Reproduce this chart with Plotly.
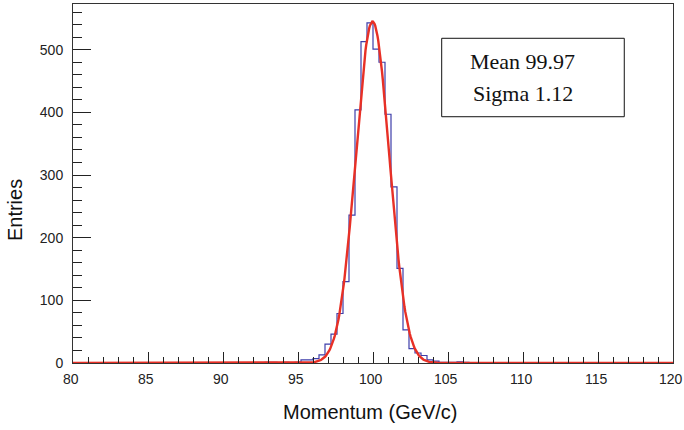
import numpy as np
import plotly.graph_objects as go

# Histogram binning: 100 bins of 0.4 GeV/c from 80 to 120
x_min = 80.0
x_max = 120.0
bin_width = 0.4

# Entries per bin (bin k covers [80 + 0.4k, 80 + 0.4(k+1)))
counts = [
    0, 0, 0, 0, 0, 0, 0, 0, 0, 0,          # 80.0 - 84.0
    0, 0, 0, 0, 0, 0, 0, 0, 0, 0,          # 84.0 - 88.0
    0, 0, 0, 0, 0, 0, 0, 0, 0, 0,          # 88.0 - 92.0
    0, 0, 1, 1, 0, 1, 0, 1, 5, 5,          # 92.0 - 96.0
    7, 13, 30, 46, 79, 130, 236, 404, 513, 543,   # 96.0 - 100.0
    501, 480, 397, 281, 151, 53, 23, 16, 12, 5,   # 100.0 - 104.0
    3, 1, 1, 1, 2, 1, 0, 0, 0, 0,          # 104.0 - 108.0
    0, 0, 0, 0, 0, 0, 0, 0, 0, 0,          # 108.0 - 112.0
    0, 0, 0, 0, 0, 0, 0, 0, 0, 0,          # 112.0 - 116.0
    0, 0, 0, 0, 0, 0, 0, 0, 0, 0,          # 116.0 - 120.0
]

# Gaussian fit parameters
fit_constant = 545.0
fit_mean = 99.97
fit_sigma = 1.12

stat_lines = [f"Mean {fit_mean:.2f}", f"Sigma {fit_sigma:.2f}"]

x_tick_vals = [80, 85, 90, 95, 100, 105, 110, 115, 120]
x_tick_text = ["80", "85", "90", "95", "100", "105", "110", "115", "120"]
y_tick_vals = [0, 100, 200, 300, 400, 500]

# Step outline of the histogram
edges = x_min + bin_width * np.arange(len(counts) + 1)
step_x = np.concatenate(([edges[0]], edges))
step_y = np.concatenate(([0], counts, [0]))

# Fit curve
fx = np.linspace(x_min, x_max, 801)
fy = fit_constant * np.exp(-0.5 * ((fx - fit_mean) / fit_sigma) ** 2)

fig = go.Figure()
fig.add_trace(go.Scatter(
    x=step_x, y=step_y, mode="lines", line_shape="hv",
    line=dict(color="rgb(62,62,170)", width=1.2),
    hoverinfo="skip", showlegend=False,
))
fig.add_trace(go.Scatter(
    x=fx, y=fy, mode="lines",
    line=dict(color="rgb(232,48,38)", width=2.4),
    hoverinfo="skip", showlegend=False,
))

L, R, T, B = 73, 11, 4, 67
label_font = dict(family="Liberation Sans, Arial, sans-serif", size=14, color="#222")
fig.update_layout(
    width=684, height=430,
    margin=dict(l=L, r=R, t=T, b=B),
    paper_bgcolor="white", plot_bgcolor="white",
    font=label_font,
    showlegend=False,
)
fig.update_xaxes(
    range=[x_min - 1e-4, x_max + 1e-4], tickvals=x_tick_vals, showticklabels=False,
    ticks="inside", ticklen=11, tickcolor="#222", tickwidth=1,
    minor=dict(dtick=1, ticks="inside", ticklen=6, tickcolor="#222", tickwidth=1),
    showgrid=False, zeroline=False,
    showline=True, linecolor="#333", linewidth=1, mirror=True,
    automargin=False,
)
fig.update_yaxes(
    range=[0, 573], tickvals=y_tick_vals,
    ticks="inside", ticklen=18, tickcolor="#222", tickwidth=1,
    minor=dict(dtick=20, ticks="inside", ticklen=9, tickcolor="#222", tickwidth=1),
    showgrid=False, zeroline=False,
    showline=True, linecolor="#333", linewidth=1, mirror=True,
    ticklabelstandoff=6, automargin=False,
)

# X tick labels, centred just left of each major tick
for v, t in zip(x_tick_vals, x_tick_text):
    fig.add_annotation(
        text=t, xref="x", yref="paper", x=v, y=0,
        xanchor="center", yanchor="top", xshift=-2, yshift=-6,
        showarrow=False, font=label_font,
    )

# Axis titles
fig.add_annotation(
    text="Momentum (GeV/c)", xref="paper", yref="paper",
    x=0.495, y=0, yanchor="middle", yshift=-49, showarrow=False,
    font=dict(family="Liberation Sans, Arial, sans-serif", size=20, color="#111"),
)
fig.add_annotation(
    text="Entries", xref="paper", yref="paper",
    x=0, y=0.426, xanchor="center", yanchor="middle", xshift=-58,
    textangle=-90, showarrow=False,
    font=dict(family="Liberation Sans, Arial, sans-serif", size=20, color="#111"),
)

# Fit statistics box
fig.add_shape(
    type="rect", xref="paper", yref="paper",
    x0=0.6145, x1=0.9188, y0=0.686, y1=0.9045,
    line=dict(color="#111", width=1), fillcolor="white",
)
for yy, txt in zip([0.8407, 0.7495], stat_lines):
    fig.add_annotation(
        text=txt, xref="paper", yref="paper",
        x=0.7495, y=yy, xanchor="center", yanchor="middle", showarrow=False,
        font=dict(family="Liberation Serif, Times New Roman, serif", size=22, color="#111"),
    )

fig.write_html("out.html")
